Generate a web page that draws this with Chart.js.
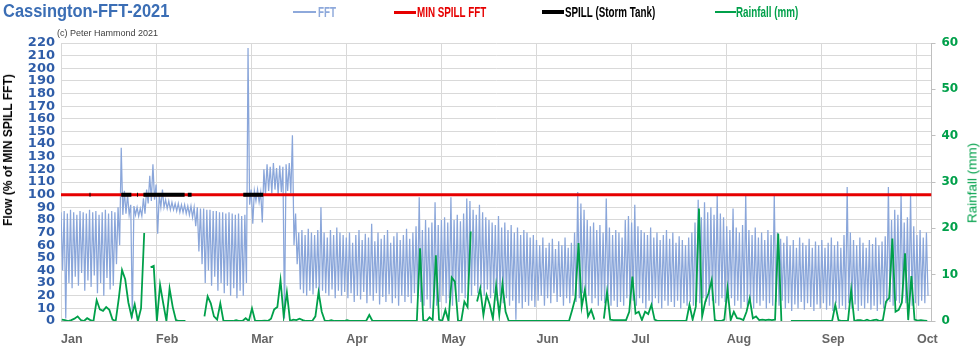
<!DOCTYPE html>
<html>
<head>
<meta charset="utf-8">
<script src="https://cdn.jsdelivr.net/npm/chart.js@4.4.1/dist/chart.umd.min.js"></script>
<style>
  html, body { margin: 0; padding: 0; background: #ffffff; }
  #wrap { position: relative; width: 980px; height: 349px; overflow: hidden; background: #fff; }
  #c { position: absolute; left: 0; top: 0; }
  .t { position: absolute; white-space: nowrap; line-height: 1; }
  .lg { position: absolute; white-space: nowrap; line-height: 1; font: bold 15px 'Liberation Sans', Arial, sans-serif; transform: scaleX(0.655); transform-origin: 0 0; }
  .ln { position: absolute; }
</style>
</head>
<body>
<div id="wrap">
  <canvas id="c" width="980" height="349"></canvas>
  <div class="t" id="title" style="left:3px;top:1px;font:bold 17.5px 'Liberation Sans',Arial,sans-serif;color:#3B6EB5;transform:scaleX(0.94);transform-origin:0 0;">Cassington-FFT-2021</div>
  <div class="t" style="left:57px;top:28px;font:9px 'Liberation Sans',Arial,sans-serif;color:#404040;">(c) Peter Hammond 2021</div>

  <div class="ln" style="left:293px;top:11px;width:23px;height:1.5px;background:#8EA9DB;"></div>
  <div class="lg" style="left:318px;top:3px;color:#8EA9DB;">FFT</div>
  <div class="ln" style="left:394px;top:10.5px;width:22px;height:3px;background:#E60000;"></div>
  <div class="lg" style="left:417px;top:3px;color:#E60000;">MIN SPILL FFT</div>
  <div class="ln" style="left:542px;top:10px;width:22px;height:4px;background:#000;"></div>
  <div class="lg" style="left:565px;top:3px;color:#000;">SPILL (Storm Tank)</div>
  <div class="ln" style="left:715px;top:11px;width:21px;height:2px;background:#00A04A;"></div>
  <div class="lg" style="left:736px;top:3px;color:#00A04A;">Rainfall (mm)</div>

  <div class="t" style="left:7.5px;top:150px;transform:translate(-50%,-50%) rotate(-90deg);font:bold 12px 'Liberation Sans',Arial,sans-serif;color:#000;">Flow (% of MIN SPILL FFT)</div>
  <div class="t" style="left:971.5px;top:183px;transform:translate(-50%,-50%) rotate(-90deg);font:13.5px 'Liberation Sans',Arial,sans-serif;color:#00A04A;">Rainfall (mm)</div>
</div>
<script>
// ---- tick labels / categories ----
const months = ["Jan","Feb","Mar","Apr","May","Jun","Jul","Aug","Sep","Oct"];
const monthStart = [0,30,60,90,120,150,180,210,240,270]; // day-slot index where each month label/gridline sits
const flowTicks = [0,10,20,30,40,50,60,70,80,90,100,110,120,130,140,150,160,170,180,190,200,210,220];
const rainTicks = [0,10,20,30,40,50,60];

// ---- FFT flow (% of MIN SPILL FFT): daily high and daily low ----
const fftHigh = [
 86,87,85,88,86,84,87,86,85,88,86,87,84,86,88,85,87,86,90,137,103,100,92,91,90,89,97,104,115,124,
 108,100,104,96,95,94,93,93,92,92,91,91,90,90,89,89,88,88,87,87,86,86,85,86,85,84,85,83,84,216,
 104,103,104,102,120,124,122,125,121,123,122,124,125,147,85,70,72,68,73,70,68,72,90,70,66,72,68,74,70,68,
 66,70,62,68,72,64,69,66,77,63,70,65,68,72,62,67,70,64,68,73,65,70,75,98,72,80,74,78,94,76,
 80,82,78,98,80,84,79,85,97,95,88,84,92,86,82,80,78,76,83,74,78,72,76,70,74,68,72,70,66,68,
 64,60,66,58,62,65,57,63,60,66,58,62,70,102,93,88,80,75,78,72,76,70,97,74,68,72,70,66,80,83,
 78,92,75,72,70,68,74,66,70,64,68,72,65,70,62,67,64,60,66,70,78,96,82,94,86,90,84,100,85,82,
 75,72,89,74,70,76,100,72,68,74,66,70,64,72,68,100,70,65,62,67,60,64,58,66,62,60,65,58,63,60,
 64,58,62,66,60,63,58,68,106,70,64,60,66,62,58,64,61,66,60,63,67,106,80,88,84,101,78,82,100,75,
 68,72,66,70
];
const fftLow = [
 40,2,30,26,35,28,38,24,32,27,36,22,30,20,34,25,28,45,60,84,85,84,2,84,83,83,85,93,95,96,
 69,90,90,89,88,88,87,86,86,85,84,82,75,55,45,30,40,28,35,24,30,22,28,20,26,18,24,20,30,92,
 77,95,94,78,100,103,101,104,100,102,2,103,101,60,45,25,22,20,24,21,26,19,24,22,20,25,18,24,20,23,
 18,22,15,20,17,23,14,20,16,22,13,19,15,21,14,18,12,20,15,19,14,22,18,15,12,17,10,18,12,15,
 20,14,18,12,20,15,22,18,25,20,28,22,26,20,25,18,22,16,20,14,18,12,16,1,14,10,15,12,16,11,
 16,20,12,18,14,22,15,19,12,18,14,20,15,18,22,16,20,14,18,12,16,14,18,12,16,11,15,12,18,14,
 16,12,18,14,10,16,12,18,14,10,16,12,15,11,16,10,14,12,15,12,15,14,18,15,12,16,14,12,18,15,
 14,18,12,16,10,15,12,16,10,14,12,16,10,14,12,15,12,16,10,14,8,13,10,15,9,14,11,8,13,10,
 14,9,12,8,14,10,12,9,14,10,13,8,12,10,14,9,12,8,13,10,14,15,12,16,14,18,14,16,12,14,
 12,16,14,20
];

// ---- Rainfall (mm), daily; null = no reading ----
const rainfall = [
 0.3,0.2,0,0.2,0.5,1,0.2,0,0.6,0.2,0,4.5,2.5,2.2,3,2.4,0.3,0,5,11,9,4,1,3.6,0,2.7,19,null,11.6,11.9,
 0,7.8,3.8,0,7,3,0.2,0,0,0,null,null,null,null,null,1,5.3,3.8,1,0.3,3.8,0,0,0,0,0.2,0,0,0.6,0,
 2.7,0,0,0,0.1,0,0.5,2.5,3,8.8,1,6.2,0,0.3,0.2,0.5,0.2,0,0,0,1,6.2,2,0,0,0.2,0,0,0,0,
 0.2,0,0,0,0,0,0,1.3,0,0,0,0,0,0,0,0,0,0,0,0,0,0,0,15.7,0.2,0,0.8,0.2,14.2,0.3,
 0,2.4,0,9.4,8.5,0,0,4.2,3,19.3,null,4.2,7,1.3,5.6,3.5,0.5,7.6,1.3,8,2,0,0,0,0,0,0,0,0,0,
 0,0,0,0,0,0,0,0,0,0,0,2.4,5,16.8,3,6.7,1,2.4,0.3,null,null,0.5,6.3,0.3,0.2,0.2,0.2,0.2,0.2,2,
 9.6,1.6,2,0.2,2,1.5,3.5,0.3,0,0,0,0,0,0,0,0,0,0,3.5,0.3,3.1,24.3,1,4.2,6,8.8,0.2,0,0,0.3,
 7,0.2,2,0.6,0.5,0.2,2,4.9,0.6,1,0.2,0.3,0.2,0.3,0.2,0.3,18.9,0,null,null,0,0,0,0,0,0,0,0,0,0,
 0,0,0,0,3.5,0.2,0,0,0,6.7,0,0.2,0.2,0,0.3,0,0.2,0.3,0,0.2,4.2,5,17.8,2,2.4,4,14.6,0.2,9.7,0.3,
 0.1,0.2,0.1,0
];

// ---- MIN SPILL FFT level and spill (storm tank) periods ----
const minSpillLevel = 100;
const spillRuns = [[0,0.3],[9,9.3],[19,22.2],[24,24.3],[26,39],[40,41.2],[57.5,63.8]];

// ---- build library data from the arrays ----
const fftData = [];
for (let d = 0; d < fftHigh.length; d++) {
  fftData.push({x: d, y: fftHigh[d]});
  fftData.push({x: d + 0.5, y: fftLow[d]});
}
const rainData = rainfall.map((v, d) => ({x: d + 0.25, y: v}));
const spillData = [];
spillRuns.forEach(r => { spillData.push({x: r[0], y: minSpillLevel}); spillData.push({x: r[1], y: minSpillLevel}); spillData.push({x: r[1] + 0.01, y: null}); });

const X_MAX = 274.6;
const minSpillData = [{x: 0, y: minSpillLevel}, {x: X_MAX, y: minSpillLevel}];

const GRID = '#D9D9D9';
const AXIS = '#BFBFBF';

new Chart(document.getElementById('c'), {
  type: 'line',
  data: {
    datasets: [
      { label: 'Rainfall (mm)', data: rainData, yAxisID: 'y1', borderColor: '#00A04A', borderWidth: 1.8, pointRadius: 0, spanGaps: false, order: 0, tension: 0 },
      { label: 'SPILL (Storm Tank)', data: spillData, yAxisID: 'y', borderColor: '#000000', backgroundColor: '#000000', borderWidth: 4, pointRadius: 0, spanGaps: false, order: 1 },
      { label: 'MIN SPILL FFT', data: minSpillData, yAxisID: 'y', borderColor: '#E60000', borderWidth: 3, pointRadius: 0, order: 2 },
      { label: 'FFT', data: fftData, yAxisID: 'y', borderColor: '#8AA6DA', borderWidth: 1.25, pointRadius: 0, order: 3, tension: 0 }
    ]
  },
  options: {
    responsive: false,
    animation: false,
    devicePixelRatio: 1,
    layout: { padding: { top: 43, left: 0, right: 0, bottom: 0 } },
    plugins: { legend: { display: false }, title: { display: false }, tooltip: { enabled: false } },
    scales: {
      x: {
        type: 'linear', min: 0, max: X_MAX,
        afterBuildTicks: (s) => { s.ticks = monthStart.map(v => ({value: v})); },
        afterFit: (s) => { s.height = 28; },
        grid: { color: GRID, drawTicks: false, lineWidth: 1 },
        border: { color: AXIS },
        ticks: {
          align: 'start', padding: 11, maxRotation: 0, autoSkip: false,
          color: '#666666', font: { family: "'Liberation Sans', Arial, sans-serif", weight: 'bold', size: 12.5 },
          callback: (v) => { const i = monthStart.indexOf(v); return i >= 0 ? months[i] : ''; }
        }
      },
      y: {
        position: 'left', min: 0, max: 220,
        afterBuildTicks: (s) => { s.ticks = flowTicks.map(v => ({value: v})); },
        afterFit: (s) => { s.width = 61; },
        grid: { color: GRID, drawTicks: false },
        border: { display: false },
        ticks: { autoSkip: false, padding: 6, color: '#2F5DA8', font: { family: "'DejaVu Sans', sans-serif", weight: 'bold', size: 13, lineHeight: 1 } }
      },
      y1: {
        position: 'right', min: 0, max: 60,
        afterBuildTicks: (s) => { s.ticks = rainTicks.map(v => ({value: v})); },
        afterFit: (s) => { s.width = 48.5; },
        grid: { drawOnChartArea: false, drawTicks: true, tickLength: 4, color: AXIS },
        border: { color: AXIS },
        ticks: { autoSkip: false, padding: 6, color: '#00A04A', font: { family: "'DejaVu Sans', sans-serif", weight: 'bold', size: 12 } }
      }
    }
  }
});
</script>
</body>
</html>
